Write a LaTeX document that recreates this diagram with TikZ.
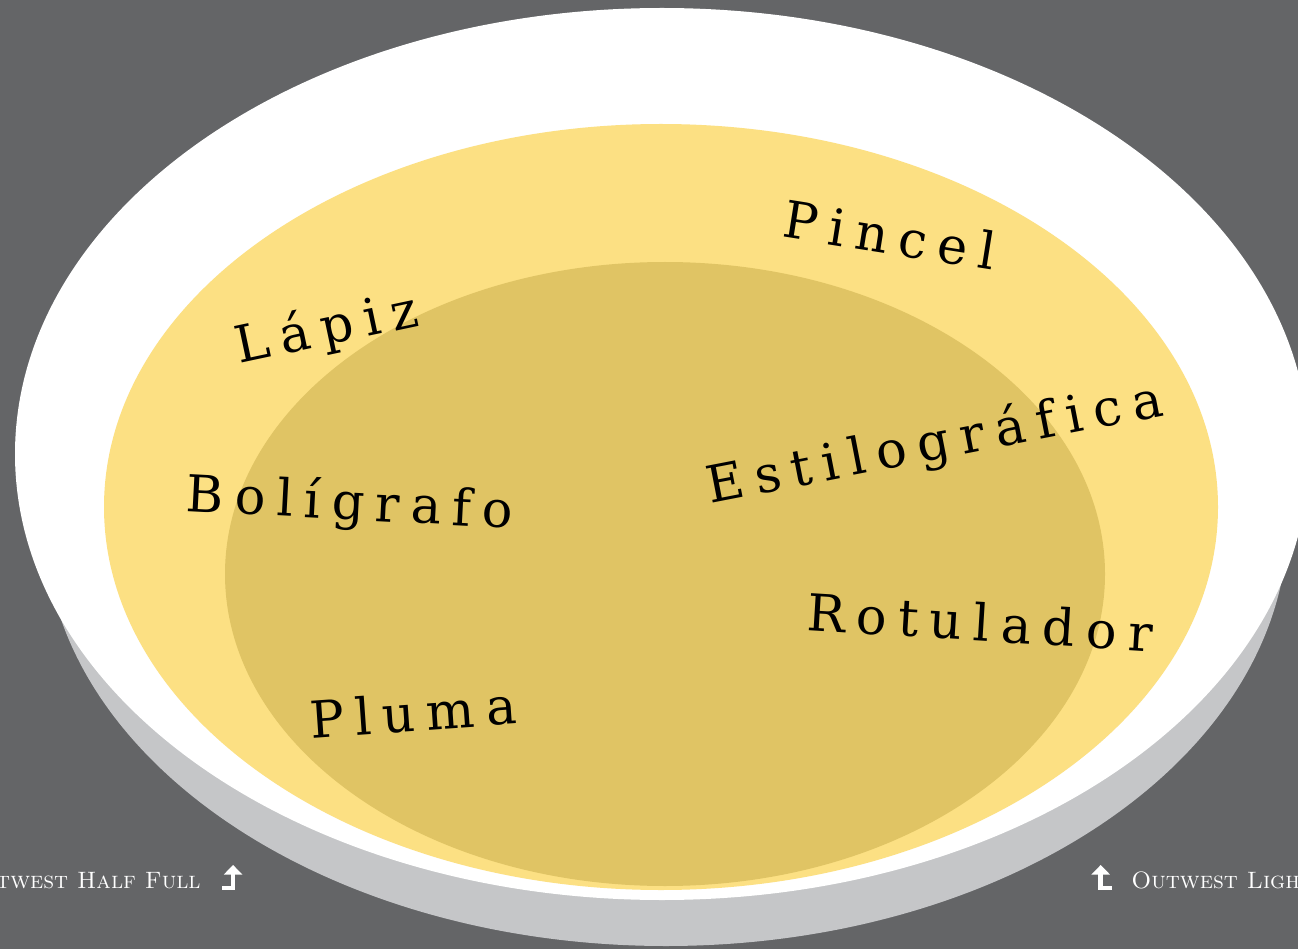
\documentclass[tikz,border=0pt]{standalone}
\usepackage{fontspec}
\usetikzlibrary{arrows.meta}
\newfontfamily\penfont{DejaVu Serif}[LetterSpace=22,Ligatures=NoCommon]
\definecolor{backgray}{HTML}{646567}
\definecolor{shadowgray}{HTML}{C5C6C8}
\definecolor{softyellow}{HTML}{FCE083}
\definecolor{deepyellow}{HTML}{E0C464}

\begin{document}
\begin{tikzpicture}[x=0.02cm,y=-0.02cm,
  pen/.style={font=\penfont\fontsize{29}{33}\selectfont,text=black,inner sep=0pt},
  brand/.style={font={\fontsize{13.5}{15}\selectfont\scshape\addfontfeature{LetterSpace=6}},text=white,inner sep=0pt},
  bendarrow/.style={draw=white,line width=2.6pt,-{Triangle[length=1.9mm,width=3.6mm]}}]
\fill[backgray] (0,0) rectangle (1298,949);
\useasboundingbox (0,0) rectangle (1298,949);
\clip (0,0) rectangle (1298,949);
% the plate
\fill[shadowgray] (666,520) ellipse [x radius=622, y radius=426];
\fill[white] (662,454) ellipse [x radius=647, y radius=446];
\fill[softyellow] (661,507) ellipse [x radius=557, y radius=383];
\fill[deepyellow] (665,574) ellipse [x radius=440, y radius=312];
% the words
\node (pincel) [pen,rotate=-9] at (890,235) {Pincel};
\node (lapiz) [pen,rotate=12] at (327,330) {Lápiz};
\node (boligrafo) [pen,rotate=-3] at (350,505) {Bolígrafo};
\node (estilografica) [pen,rotate=11] at (935,445) {Estilográfica};
\node (rotulador) [pen,rotate=-3.5] at (980,622) {Rotulador};
\node (pluma) [pen,rotate=4] at (413,712) {Pluma};
% captions
\node (halffull) [brand,anchor=base east] at (201,888) {Outwest Half Full};
\node (light) [brand,anchor=base west] at (1131,888) {Outwest Light};
\draw[bendarrow] ([xshift=12]halffull.base east) -- ++(11,0) -- ++(0,-23);
\draw[bendarrow] ([xshift=-11]light.base west) -- ++(-11,0) -- ++(0,-23);
\end{tikzpicture}
\end{document}
